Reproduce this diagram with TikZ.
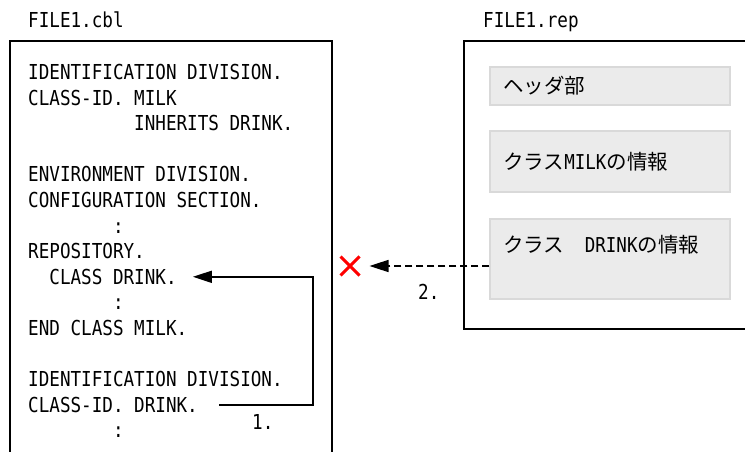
\documentclass[tikz,border=0pt]{standalone}
\usepackage{fontspec}
\newfontfamily\mono[FakeStretch=0.855]{DejaVu Sans Mono}
\newfontfamily\cjk{Noto Sans CJK JP}
\usetikzlibrary{arrows.meta,shapes.misc,calc}
\definecolor{boxfill}{HTML}{EBEBEB}
\definecolor{boxline}{HTML}{D9D9D9}
\definecolor{xred}{HTML}{FF0000}
\begin{document}
\begin{tikzpicture}[x=1pt,y=-1pt,
  code/.style={anchor=base west,inner sep=0pt,font=\fontsize{20.6}{24}\selectfont\mono},
  jp/.style={anchor=base west,inner sep=0pt,font=\fontsize{20.5}{24}\selectfont\cjk},
  frame/.style={line width=2pt,draw=black},
  graybox/.style={draw=boxline,fill=boxfill,line width=1.5pt,minimum width=240pt,inner sep=0pt},
  conn/.style={line width=1.6pt,-{Triangle[length=19pt,width=12pt]}}
]
\useasboundingbox (0,0) rectangle (745,452);
\clip (0,0) rectangle (745,452);
\fill[white] (0,0) rectangle (745,452);

% file labels
\node[code] (lcbl) at (28,27.5) {FILE1.cbl};
\node[code] (lrep) at (483,27.5) {FILE1.rep};

% left source frame (open at the bottom)
\draw[frame] (10,460) -- (10,41) -- (332,41) -- (332,460);

% right repository frame (open at the right)
\draw[frame] (760,41) -- (464,41) -- (464,329) -- (760,329);

% code lines
\node[code] (l0)  at (28,79.5)  {IDENTIFICATION DIVISION.};
\node[code] (l1)  at (28,105.1) {CLASS-ID. MILK};
\node[code] (l2)  at (134,130.7) {INHERITS DRINK.};
\node[code] (l4)  at (28,181.9) {ENVIRONMENT DIVISION.};
\node[code] (l5)  at (28,207.5) {CONFIGURATION SECTION.};
\node[code] (l6)  at (112.8,233.1) {:};
\node[code] (l7)  at (28,258.7) {REPOSITORY.};
\node[code] (l8)  at (49.2,284.3) {CLASS DRINK.};
\node[code] (l9)  at (112.8,309.9) {:};
\node[code] (l10) at (28,335.5) {END CLASS MILK.};
\node[code] (l12) at (28,386.7) {IDENTIFICATION DIVISION.};
\node[code] (l13) at (28,412.3) {CLASS-ID. DRINK.};
\node[code] (l14) at (112.8,437.9) {:};

% repository content boxes
\node[graybox,minimum height=38pt] (g1) at (610,86) {};
\node[graybox,minimum height=61pt] (g2) at (610,161.5) {};
\node[graybox,minimum height=80pt] (g3) at (610,259) {};
\node[jp] (t1) at (503,93) {ヘッダ部};
\node[jp] (t2) at (503,169) {クラス{\mono MILK}の情報};
\node[jp] (t3) at (503,252) {クラス　{\mono DRINK}の情報};

% connector 1
\coordinate (turn) at (313,0);
\draw[conn] ([xshift=21pt]l13.east) -- (turn |- l13.east) -- (turn |- l8.east) -- ([xshift=16pt]l8.east);
\node[code] (n1) at (252,429.5) {1.};

% connector 2 (rejected)
\node[draw=xred,cross out,line width=3pt,minimum size=16pt,inner sep=0pt] (x) at (350,266) {};
\draw[conn,dashed,dash pattern=on 7pt off 4pt] ($(g3.west)+(0,7)$) -- ([xshift=10pt]x.east |- 0,266);
\node[code] (n2) at (418,299.5) {2.};
\end{tikzpicture}
\end{document}
